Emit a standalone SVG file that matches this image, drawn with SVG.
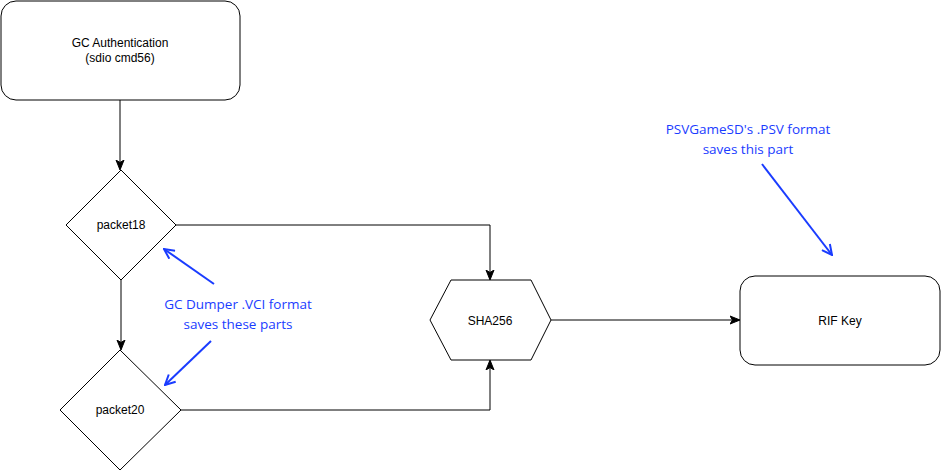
<svg xmlns="http://www.w3.org/2000/svg" width="941" height="471" viewBox="0 0 941 471">
<defs>
<style>
.shape{fill:#fff;stroke:#000;stroke-width:1}
.lbl{font-family:"Liberation Sans",Arial,sans-serif;font-size:12px;fill:#000;text-anchor:middle}
.conn{fill:none;stroke:#000;stroke-width:1}
.note{font-family:"Open Sans","Noto Sans",sans-serif;font-size:13.5px;fill:#1a3cff;text-anchor:middle}
.blue{fill:none;stroke:#1a3cff;stroke-width:2}
</style>
<marker id="arr" viewBox="0 0 10 10" refX="9" refY="5" markerWidth="10" markerHeight="10" markerUnits="userSpaceOnUse" orient="auto">
<path d="M0,1 L10,5 L0,9 L2.5,5 Z" fill="#000" stroke="#000" stroke-width="1"/>
</marker>
<marker id="barr" viewBox="0 0 12 12" refX="11" refY="6" markerWidth="12" markerHeight="12" markerUnits="userSpaceOnUse" orient="auto">
<path d="M1,1 L11,6 L1,11" fill="none" stroke="#1a3cff" stroke-width="2"/>
</marker>
</defs>
<rect width="941" height="471" fill="#fff"/>
<g id="connectors">
<path class="conn" d="M120,100 L120,169" marker-end="url(#arr)"/>
<path class="conn" d="M121,280 L121,349" marker-end="url(#arr)"/>
<path class="conn" d="M176,225 L490,225 L490,279" marker-end="url(#arr)"/>
<path class="conn" d="M181,410 L490,410 L490,361" marker-end="url(#arr)"/>
<path class="conn" d="M551,320 L739,320" marker-end="url(#arr)"/>
</g>
<g id="gc-auth">
<rect class="shape" x="1" y="1" width="239" height="99" rx="15" ry="15"/>
<text class="lbl" x="120" y="47">GC Authentication</text>
<text class="lbl" x="120" y="62">(sdio cmd56)</text>
</g>
<g id="packet18">
<polygon class="shape" points="121,170 176,225 121,280 66,225"/>
<text class="lbl" x="121" y="229">packet18</text>
</g>
<g id="packet20">
<polygon class="shape" points="120,350 181,410 120,470 60,410"/>
<text class="lbl" x="120" y="414">packet20</text>
</g>
<g id="sha256">
<polygon class="shape" points="430,320 451,280 531,280 551,320 531,360 451,360"/>
<text class="lbl" x="490" y="325">SHA256</text>
</g>
<g id="rif-key">
<rect class="shape" x="740" y="276" width="200" height="89" rx="15" ry="15"/>
<text class="lbl" x="840" y="325">RIF Key</text>
</g>
<g id="note-vci">
<text class="note" x="238" y="309">GC Dumper .VCI format</text>
<text class="note" x="238" y="329">saves these parts</text>
<path class="blue" d="M214,284 L164,249" marker-end="url(#barr)"/>
<path class="blue" d="M211,341 L165,385" marker-end="url(#barr)"/>
</g>
<g id="note-psv">
<text class="note" x="748" y="134">PSVGameSD's .PSV format</text>
<text class="note" x="748" y="154">saves this part</text>
<path class="blue" d="M762,164 L832,255" marker-end="url(#barr)"/>
</g>
</svg>
